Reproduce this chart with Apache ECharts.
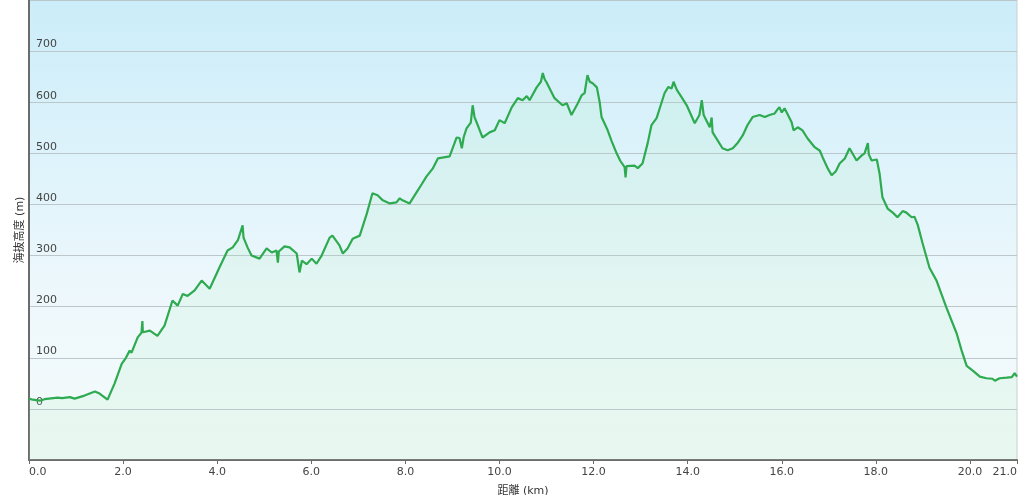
<!DOCTYPE html>
<html>
<head>
<meta charset="utf-8">
<script src="https://cdn.jsdelivr.net/npm/echarts@6/dist/echarts.min.js"></script>
<style>
  html, body { margin: 0; padding: 0; background: #ffffff; }
  #chart { width: 1024px; height: 495px; }
</style>
</head>
<body>
<div id="chart"></div>
<script>
// distance along route (km)
const distKm = [
  0, 0.08, 0.23, 0.33, 0.61, 0.70, 0.87, 0.97, 1.18, 1.40, 1.50, 1.67, 1.82, 1.97, 2.06, 2.14, 2.18,
  2.31, 2.39, 2.41, 2.42, 2.57, 2.73, 2.88, 3.05, 3.16, 3.27, 3.37, 3.52, 3.67, 3.84, 4.05, 4.22,
  4.33, 4.44, 4.54, 4.56, 4.65, 4.73, 4.90, 5.05, 5.16, 5.26, 5.29, 5.31, 5.43, 5.54, 5.69, 5.75,
  5.80, 5.90, 6.01, 6.11, 6.22, 6.39, 6.45, 6.60, 6.67, 6.77, 6.88, 7.03, 7.18, 7.30, 7.41, 7.52,
  7.67, 7.81, 7.88, 7.94, 8.09, 8.24, 8.35, 8.45, 8.58, 8.69, 8.94, 9.09, 9.15, 9.20, 9.24, 9.30,
  9.39, 9.43, 9.47, 9.56, 9.64, 9.79, 9.90, 10.00, 10.11, 10.26, 10.39, 10.49, 10.58, 10.64, 10.79,
  10.88, 10.92, 10.96, 11.00, 11.17, 11.34, 11.43, 11.53, 11.66, 11.75, 11.81, 11.87, 11.92, 11.98,
  12.07, 12.13, 12.17, 12.30, 12.38, 12.49, 12.57, 12.66, 12.68, 12.70, 12.87, 12.94, 13.04, 13.15,
  13.23, 13.34, 13.43, 13.51, 13.59, 13.66, 13.70, 13.77, 13.87, 13.98, 14.15, 14.25, 14.30, 14.34,
  14.47, 14.51, 14.53, 14.64, 14.74, 14.85, 14.96, 15.06, 15.17, 15.27, 15.38, 15.53, 15.64, 15.74,
  15.85, 15.91, 15.95, 16.00, 16.06, 16.21, 16.25, 16.34, 16.44, 16.55, 16.70, 16.81, 16.87, 16.98,
  17.06, 17.15, 17.23, 17.34, 17.44, 17.59, 17.70, 17.76, 17.83, 17.85, 17.91, 18.02, 18.08, 18.14,
  18.25, 18.36, 18.46, 18.57, 18.65, 18.76, 18.82, 18.89, 18.99, 19.14, 19.29, 19.50, 19.72, 19.82,
  19.93, 20.06, 20.21, 20.35, 20.48, 20.53, 20.63, 20.78, 20.89, 20.95, 21.00
];
// elevation (m)
const elevM = [
  20, 18, 16, 19, 22, 21, 23, 20, 26, 34, 30, 18, 50, 88, 100, 114, 110,
  140, 149, 172, 150, 153, 143, 163, 212, 202, 225, 221, 232, 251, 235, 277, 310,
  316, 330, 359, 335, 315, 300, 294, 314, 306, 310, 286, 308, 318, 316, 304, 267,
  290, 283, 294, 284, 300, 335, 339, 320, 304, 314, 333, 339, 382, 422, 418, 408,
  402, 404, 412, 408, 402, 424, 440, 455, 470, 490, 494, 531, 530, 510, 532, 549,
  560, 594, 571, 550, 531, 541, 545, 565, 559, 590, 608, 604, 612, 604, 629,
  640, 657, 645, 639, 608, 594, 598, 575, 597, 614, 618, 653, 640, 637,
  629, 600, 571, 545, 525, 500, 485, 473, 453, 475, 476, 471, 480, 520,
  555, 569, 595, 618, 630, 627, 640, 624, 610, 594, 559, 575, 604, 575,
  551, 570, 541, 525, 510, 506, 510, 520, 535, 555, 571, 575, 571, 575,
  578, 586, 590, 580, 588, 561, 545, 551, 545, 529, 512, 505, 492, 470,
  457, 465, 480, 490, 510, 486, 496, 500, 520, 498, 486, 488, 460, 414,
  392, 384, 375, 387, 384, 375, 376, 360, 325, 276, 251, 198, 147, 115,
  84, 75, 63, 60, 59, 55, 60, 61, 62, 70, 63
];
const xAxisName = '距離 (km)';
const yAxisName = '海抜高度 (m)';

const points = distKm.map((d, i) => [d, elevM[i]]);
const FONT = 'DejaVu Sans, Verdana, Noto Sans CJK JP, sans-serif';

const chart = echarts.init(document.getElementById('chart'), null, { renderer: 'canvas' });
chart.setOption({
  animation: false,
  backgroundColor: '#ffffff',
  grid: {
    left: 29, right: 7, top: 0, bottom: 35,
    outerBoundsMode: 'none',
    containLabel: false,
    show: true,
    borderColor: '#c9cfd2',
    borderWidth: 1,
    backgroundColor: new echarts.graphic.LinearGradient(0, 0, 0, 1, [
      { offset: 0, color: '#cbedf9' },
      { offset: 0.65, color: '#eef8fc' },
      { offset: 1, color: '#f4fbfa' }
    ])
  },
  xAxis: {
    type: 'value',
    min: 0, max: 21, interval: 2,
    name: xAxisName,
    nameLocation: 'middle',
    nameGap: 26,
    nameMoveOverlap: false,
    nameTextStyle: { fontFamily: FONT, fontSize: 11, color: '#333' },
    axisLine: { show: true, onZero: false, lineStyle: { color: '#6b6b6b', width: 2 } },
    axisTick: { show: true, length: 4, lineStyle: { color: '#6b6b6b', width: 1 } },
    axisLabel: {
      fontFamily: FONT, fontSize: 11, color: '#444', margin: 7,
      showMaxLabel: true, showMinLabel: true,
      alignMinLabel: 'left', alignMaxLabel: 'right',
      formatter: v => v.toFixed(1)
    },
    splitLine: { show: false }
  },
  yAxis: {
    type: 'value',
    min: -100, max: 800, interval: 100,
    name: yAxisName,
    nameLocation: 'middle',
    nameGap: 3,
    nameMoveOverlap: false,
    nameTextStyle: { fontFamily: FONT, fontSize: 11, color: '#333' },
    axisLine: { show: true, onZero: false, lineStyle: { color: '#6b6b6b', width: 2 } },
    axisTick: { show: false },
    axisLabel: {
      inside: true, margin: 7, verticalAlign: 'bottom', padding: [0, 0, 1, 0],
      fontFamily: FONT, fontSize: 11, color: '#444',
      showMinLabel: false, showMaxLabel: false
    },
    splitLine: { show: true, lineStyle: { color: '#bcc6cb', width: 1 } }
  },
  series: [{
    type: 'line',
    data: points,
    showSymbol: false,
    symbol: 'none',
    lineStyle: { color: '#2eaa50', width: 2.2 },
    itemStyle: { color: '#2eaa50' },
    areaStyle: { origin: 'start', color: 'rgba(170,235,190,0.22)' },
    z: 3
  }]
});
</script>
</body>
</html>
